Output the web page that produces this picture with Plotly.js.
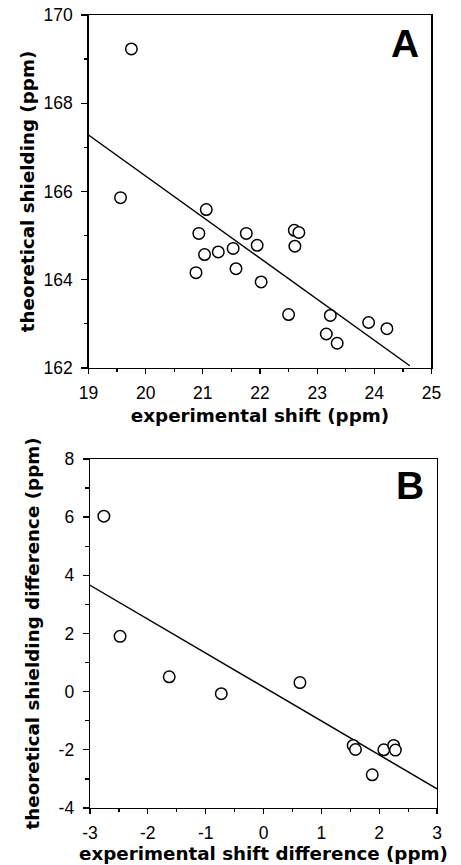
<!DOCTYPE html>
<html>
<head>
<meta charset="utf-8">
<script src="https://cdn.plot.ly/plotly-3.0.1.min.js"></script>
<style>html,body{margin:0;padding:0;background:#fff;}#chart{width:461px;height:865px;}</style>
</head>
<body>
<div id="chart"></div>
<script>
// Panel A: experimental shift vs theoretical shielding
const expShiftA = [19.75, 19.56, 21.06, 20.93, 21.03, 21.27, 20.88, 21.53, 21.58, 21.76, 21.95, 22.02, 22.60, 22.68, 22.61, 22.50, 23.23, 23.16, 23.35, 23.90, 24.22];
const theoShieldA = [169.23, 165.86, 165.59, 165.05, 164.57, 164.63, 164.16, 164.71, 164.25, 165.05, 164.78, 163.95, 165.12, 165.07, 164.76, 163.21, 163.19, 162.77, 162.56, 163.03, 162.89];
const fitXA = [19.0, 24.62];
const fitYA = [167.28, 162.05];

// Panel B: experimental shift difference vs theoretical shielding difference
const expDiffB = [-2.76, -2.48, -1.63, -0.73, 0.63, 1.55, 1.59, 1.88, 2.08, 2.25, 2.28];
const theoDiffB = [6.03, 1.90, 0.51, -0.07, 0.31, -1.85, -1.99, -2.86, -2.00, -1.85, -2.01];
const fitXB = [-3.02, 3.0];
const fitYB = [3.68, -3.34];

const ticksAx = [19, 20, 21, 22, 23, 24, 25];
const ticksAy = [162, 164, 166, 168, 170];
const ticksBx = [-3, -2, -1, 0, 1, 2, 3];
const ticksBy = [-4, -2, 0, 2, 4, 6, 8];
const labelsBx = ['-3', '-2', '-1', '0', '1', '2', '3'];
const labelsBy = ['-4', '-2', '0', '2', '4', '6', '8'];

const FONT = 'Liberation Sans, Arial, Helvetica, sans-serif';
const TFONT = 'DejaVu Sans, Liberation Sans, Arial, sans-serif';
const marker = {symbol: 'circle', size: 11.5, color: 'white', line: {color: 'black', width: 1.5}};
const lineStyle = {color: 'black', width: 1.5};

const traces = [
  {x: fitXA, y: fitYA, mode: 'lines', line: lineStyle, xaxis: 'x', yaxis: 'y', hoverinfo: 'skip'},
  {x: expShiftA, y: theoShieldA, mode: 'markers', marker: marker, xaxis: 'x', yaxis: 'y'},
  {x: fitXB, y: fitYB, mode: 'lines', line: lineStyle, xaxis: 'x2', yaxis: 'y2', hoverinfo: 'skip'},
  {x: expDiffB, y: theoDiffB, mode: 'markers', marker: marker, xaxis: 'x2', yaxis: 'y2'}
];

function minorSpec(dt, t0, len) {
  return {ticks: 'outside', ticklen: len, tickwidth: 1.2, tickcolor: 'black', dtick: dt, tick0: t0, showgrid: false};
}
function axis(extra) {
  return Object.assign({
    showline: true, mirror: true, linecolor: 'black', linewidth: 1.3,
    showgrid: false, zeroline: false,
    ticks: 'outside', tickwidth: 1.3, tickcolor: 'black',
    tickfont: {family: FONT, size: 17.5, color: 'black'},
    fixedrange: true
  }, extra);
}
const titleFont = {family: TFONT, size: 18.3, color: 'black', weight: 'bold'};

const layout = {
  width: 461, height: 865,
  margin: {l: 0, r: 0, t: 0, b: 0},
  paper_bgcolor: 'white', plot_bgcolor: 'white',
  showlegend: false,
  xaxis: axis({domain: [0.1920, 0.9360], range: [19, 25], tickvals: ticksAx, anchor: 'y',
    ticklen: 5, ticklabelstandoff: 4, minor: minorSpec(0.5, 19, 3),
    title: {text: 'experimental shift (ppm)', font: titleFont, standoff: 7}}),
  yaxis: axis({domain: [0.5746, 0.9827], range: [162, 170], tickvals: ticksAy, anchor: 'x',
    ticklen: 6, ticklabelstandoff: 5, minor: minorSpec(1, 162, 3.5),
    title: {text: 'theoretical shielding (ppm)', font: titleFont, standoff: 4}}),
  xaxis2: axis({domain: [0.1952, 0.9480], range: [-3, 3], tickvals: ticksBx, ticktext: labelsBx, anchor: 'y2',
    ticklen: 5, ticklabelstandoff: 4, minor: minorSpec(0.5, -3, 3),
    title: {text: 'experimental shift difference (ppm)', font: titleFont, standoff: 5}}),
  yaxis2: axis({domain: [0.0659, 0.4695], range: [-4, 8], tickvals: ticksBy, ticktext: labelsBy, anchor: 'x2',
    ticklen: 6, ticklabelstandoff: 5, minor: minorSpec(1, -4, 3.5),
    title: {text: 'theoretical shielding difference (ppm)', font: titleFont, standoff: 14}}),
  annotations: [
    {text: 'A', xref: 'paper', yref: 'paper', x: 405 / 461, y: 1 - 43 / 865, xanchor: 'center', yanchor: 'middle', showarrow: false,
     font: {family: FONT, size: 39, color: 'black', weight: 'bold'}},
    {text: 'B', xref: 'paper', yref: 'paper', x: 410 / 461, y: 1 - 485 / 865, xanchor: 'center', yanchor: 'middle', showarrow: false,
     font: {family: FONT, size: 39, color: 'black', weight: 'bold'}}
  ]
};

Plotly.newPlot('chart', traces, layout, {staticPlot: true, displayModeBar: false});
</script>
</body>
</html>
